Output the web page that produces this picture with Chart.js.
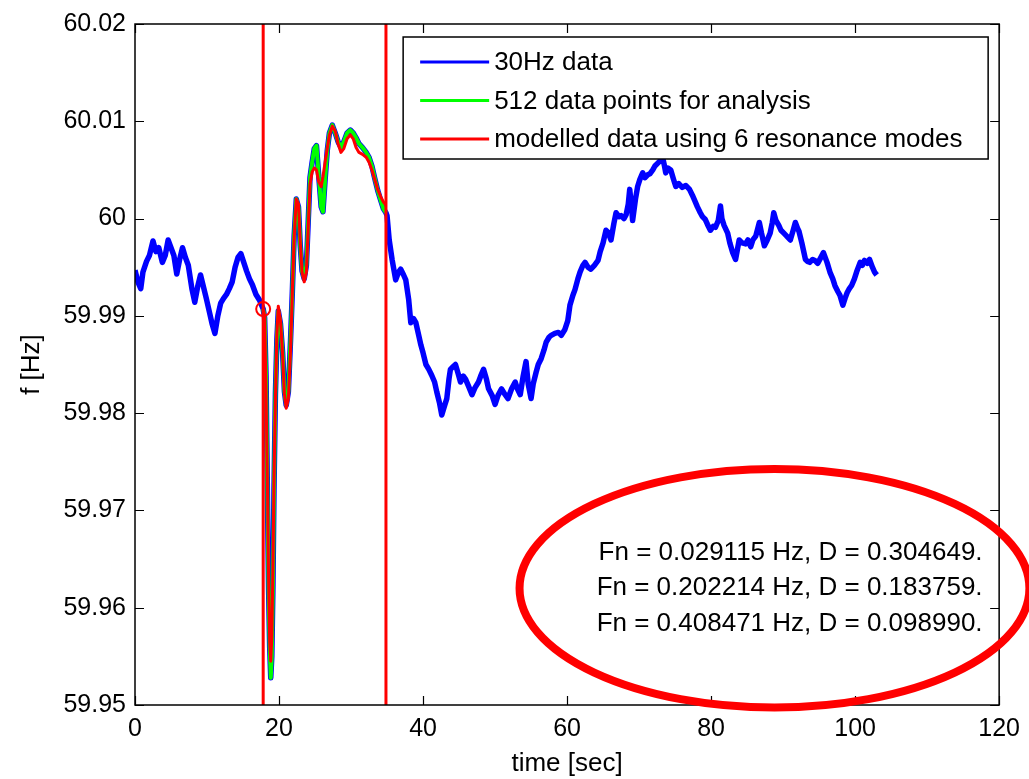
<!DOCTYPE html>
<html>
<head>
<meta charset="utf-8">
<title>Frequency record</title>
<script src="https://cdn.jsdelivr.net/npm/chart.js@4.4.1/dist/chart.umd.min.js"></script>
<style>
  html, body { margin: 0; padding: 0; background: #fff; }
  #wrap { width: 1029px; height: 779px; }
</style>
</head>
<body>
<div id="wrap"><canvas id="freqChart" width="1029" height="779"></canvas></div>
<script>
// 30 Hz record before the analysis window
const preTime = [0, 0.4, 0.8, 1.1, 1.6, 2.0, 2.5, 2.9, 3.3, 3.8, 4.2, 4.6, 5.0, 5.4, 5.8, 6.2, 6.6, 7.0, 7.4, 7.9,
  8.3, 8.7, 9.1, 9.5, 9.9, 10.3, 10.7, 11.1, 11.5, 11.9, 12.3, 12.7, 13.1, 13.5, 13.9, 14.3, 14.7, 15.1, 15.5,
  15.9, 16.3, 16.8, 17.3];
const preFreq = [59.9947, 59.9935, 59.9928, 59.9945, 59.9956, 59.9962, 59.9977, 59.9966, 59.9970, 59.9955,
  59.9962, 59.9978, 59.9970, 59.9962, 59.9943, 59.9958, 59.9970, 59.9960, 59.9952, 59.9928, 59.9914, 59.9930,
  59.9942, 59.9930, 59.9918, 59.9905, 59.9892, 59.9882, 59.9900, 59.9913, 59.9918, 59.9922, 59.9928, 59.9935,
  59.9950, 59.9960, 59.9964, 59.9955, 59.9946, 59.9938, 59.9932, 59.9922, 59.9916];

// analysis window: measured samples and the 6-mode model on the same time base
const winTime = [17.8, 18.0, 18.2, 18.4, 18.55, 18.7, 18.85, 19.0, 19.15, 19.3, 19.5, 19.7, 19.9, 20.2, 20.5,
  20.75, 21.0, 21.3, 21.6, 21.85, 22.1, 22.4, 22.7, 22.95, 23.2, 23.5, 23.8, 24.05, 24.3, 24.6, 24.9, 25.2, 25.5,
  25.85, 26.1, 26.4, 26.7, 27.0, 27.4, 27.8, 28.2, 28.6, 29.0, 29.45, 29.9, 30.3, 30.7, 31.1, 31.6, 32.1, 32.5,
  32.9, 33.3, 33.7, 34.15, 34.5, 34.85];
const winFreq = [59.9907, 59.9898, 59.9837, 59.9710, 59.9620, 59.9560, 59.9528, 59.9550, 59.9620, 59.9720,
  59.9820, 59.9875, 59.9905, 59.9892, 59.9862, 59.9822, 59.9808, 59.9822, 59.9875, 59.9925, 59.9982, 60.0020,
  60.0012, 59.9972, 59.9946, 59.9938, 59.9952, 59.9996, 60.0042, 60.0058, 60.0072, 60.0075, 60.0045, 60.0012,
  60.0007, 60.0040, 60.0070, 60.0088, 60.0096, 60.0088, 60.0079, 60.0073, 60.0079, 60.0088, 60.0091, 60.0088,
  60.0083, 60.0077, 60.0073, 60.0068, 60.0063, 60.0054, 60.0041, 60.0029, 60.0018, 60.0010, 60.0006];
const modelFreq = [59.9907, 59.9900, 59.9820, 59.9720, 59.9630, 59.9565, 59.9545, 59.9570, 59.9640, 59.9730,
  59.9815, 59.9880, 59.9910, 59.9895, 59.9860, 59.9820, 59.9805, 59.9815, 59.9865, 59.9925, 59.9980, 60.0020,
  60.0015, 59.9975, 59.9945, 59.9935, 59.9945, 59.9990, 60.0035, 60.0048, 60.0052, 60.0050, 60.0038, 60.0033,
  60.0043, 60.0058, 60.0072, 60.0086, 60.0095, 60.0090, 60.0077, 60.0068, 60.0072, 60.0082, 60.0086, 60.0082,
  60.0073, 60.0068, 60.0066, 60.0063, 60.0058, 60.0050, 60.0040, 60.0030, 60.0022, 60.0017, 60.0014];

// 30 Hz record after the analysis window
const postTime = [35.0, 35.3, 35.7, 36.2, 36.6, 36.9, 37.3, 37.6, 38.0, 38.3, 38.7, 39.0, 39.4, 39.7, 40.0, 40.4,
  40.8, 41.2, 41.6, 41.9, 42.3, 42.6, 43.0, 43.3, 43.6, 43.8, 44.2, 44.5, 44.9, 45.2, 45.6, 45.9, 46.3, 46.8,
  47.2, 47.7, 48.0, 48.4, 48.8, 49.1, 49.6, 50.0, 50.4, 50.9, 51.3, 51.8, 52.3, 52.8, 53.1, 53.5, 53.9, 54.3,
  54.6, 55.0, 55.3, 55.7, 56.0, 56.4, 56.8, 57.1, 57.5, 57.8, 58.3, 58.8, 59.2, 59.7, 60.1, 60.4, 60.8, 61.1,
  61.5, 61.8, 62.2, 62.5, 62.9, 63.3, 63.8, 64.3, 64.6, 65.0, 65.4, 65.7, 66.1, 66.5, 66.8, 67.2, 67.5, 67.9,
  68.2, 68.5, 68.7, 69.0, 69.1, 69.5, 69.8, 70.1, 70.5, 70.8, 71.2, 71.5, 71.9, 72.2, 72.6, 73.0, 73.3, 73.5,
  73.7, 74.0, 74.4, 74.8, 75.1, 75.5, 76.0, 76.5, 77.0, 77.4, 77.7, 78.1, 78.5, 78.8, 79.2, 79.5, 79.9, 80.3,
  80.6, 81.0, 81.3, 81.5, 81.8, 82.3, 82.6, 83.0, 83.4, 83.7, 83.9, 84.3, 84.8, 85.1, 85.5, 85.8, 86.2, 86.7,
  87.0, 87.4, 87.8, 88.2, 88.5, 88.7, 89.0, 89.4, 89.7, 90.1, 90.5, 91.0, 91.4, 91.7, 92.0, 92.2, 92.6, 93.1,
  93.4, 93.7, 94.1, 94.4, 94.8, 95.1, 95.6, 96.1, 96.5, 96.9, 97.2, 97.6, 97.9, 98.3, 98.6, 98.9, 99.2, 99.5,
  99.9, 100.2, 100.7, 101.0, 101.3, 101.7, 102.0, 102.4, 102.7, 103.0];
const postFreq = [60.0003, 59.9978, 59.9958, 59.9937, 59.9945, 59.9948, 59.9942, 59.9937, 59.9917, 59.9893,
  59.9897, 59.9893, 59.9880, 59.9870, 59.9862, 59.9850, 59.9845, 59.9839, 59.9832, 59.9822, 59.9810, 59.9798,
  59.9808, 59.9815, 59.9835, 59.9845, 59.9848, 59.9850, 59.9840, 59.9832, 59.9838, 59.9835, 59.9828, 59.9819,
  59.9826, 59.9832, 59.9838, 59.9845, 59.9835, 59.9825, 59.9818, 59.9809, 59.9818, 59.9825, 59.9820, 59.9815,
  59.9825, 59.9832, 59.9825, 59.9819, 59.9838, 59.9853, 59.9830, 59.9815, 59.9830, 59.9842, 59.9850, 59.9856,
  59.9865, 59.9873, 59.9878, 59.9880, 59.9882, 59.9883, 59.9880, 59.9886, 59.9895, 59.9911, 59.9921, 59.9927,
  59.9938, 59.9945, 59.9952, 59.9955, 59.9950, 59.9948, 59.9952, 59.9957, 59.9966, 59.9975, 59.9988, 59.9986,
  59.9978, 59.9995, 60.0006, 60.0002, 60.0003, 60.0000, 60.0004, 60.0015, 60.0030, 60.0008, 59.9998, 60.0020,
  60.0033, 60.0040, 60.0047, 60.0042, 60.0045, 60.0046, 60.0050, 60.0054, 60.0057, 60.0060, 60.0062, 60.0055,
  60.0047, 60.0052, 60.0050, 60.0040, 60.0033, 60.0036, 60.0032, 60.0034, 60.0030, 60.0024, 60.0019, 60.0012,
  60.0006, 60.0002, 59.9999, 59.9994, 59.9988, 59.9992, 59.9991, 59.9998, 60.0013, 60.0000, 59.9993, 59.9985,
  59.9975, 59.9965, 59.9958, 59.9970, 59.9978, 59.9975, 59.9974, 59.9978, 59.9971, 59.9978, 59.9982, 59.9996,
  59.9985, 59.9972, 59.9978, 59.9985, 59.9996, 60.0006, 59.9998, 59.9993, 59.9988, 59.9985, 59.9982, 59.9978,
  59.9988, 59.9996, 59.9990, 59.9987, 59.9975, 59.9958, 59.9956, 59.9955, 59.9958, 59.9957, 59.9954, 59.9958,
  59.9965, 59.9955, 59.9945, 59.9938, 59.9931, 59.9925, 59.9921, 59.9911, 59.9918, 59.9924, 59.9928, 59.9931,
  59.9938, 59.9945, 59.9955, 59.9952, 59.9957, 59.9954, 59.9958, 59.9950, 59.9945, 59.9942];

// window edges and the start-of-window marker
const windowEdges = [17.8, 34.85];
const startMark = [17.8, 59.9907];

const xTicks = [0, 20, 40, 60, 80, 100, 120];
const xTickLabels = ['0', '20', '40', '60', '80', '100', '120'];
const yTicks = [59.95, 59.96, 59.97, 59.98, 59.99, 60, 60.01, 60.02];
const yTickLabels = ['59.95', '59.96', '59.97', '59.98', '59.99', '60', '60.01', '60.02'];

// identified modes: natural frequency and damping
const modeFn = ['0.029115', '0.202214', '0.408471'];
const modeD = ['0.304649', '0.183759', '0.098990'];

const FONT = '"Liberation Sans", Arial, sans-serif';
const INK = '#000000';

const pts = (xs, ys) => xs.map((x, i) => ({ x: x, y: ys[i] }));

const edgeSets = windowEdges.map(t => ({
    label: '',
    data: [{ x: t, y: yTicks[0] }, { x: t, y: yTicks[yTicks.length - 1] }],
    borderColor: '#ff0000',
    borderWidth: 3,
    pointRadius: 0,
    order: 0,
}));

// box, inward ticks on all four sides
const frame = {
    id: 'frame',
    afterDatasetsDraw(chart) {
        const { ctx, chartArea: a, scales } = chart;
        ctx.save();
        ctx.strokeStyle = INK;
        ctx.lineWidth = 1.5;
        ctx.strokeRect(a.left, a.top, a.right - a.left, a.bottom - a.top);
        ctx.lineWidth = 1.2;
        ctx.beginPath();
        xTicks.forEach(v => {
            const px = Math.round(scales.x.getPixelForValue(v)) + 0.5;
            ctx.moveTo(px, a.bottom); ctx.lineTo(px, a.bottom - 9);
            ctx.moveTo(px, a.top); ctx.lineTo(px, a.top + 9);
        });
        yTicks.forEach(v => {
            const py = Math.round(scales.y.getPixelForValue(v)) + 0.5;
            ctx.moveTo(a.left, py); ctx.lineTo(a.left + 9, py);
            ctx.moveTo(a.right, py); ctx.lineTo(a.right - 9, py);
        });
        ctx.stroke();
        ctx.restore();
    }
};

// legend box in the upper right of the axes
const legendBox = {
    id: 'legendBox',
    afterDraw(chart) {
        const { ctx, chartArea: a } = chart;
        const items = chart.data.datasets.filter(d => d.label);
        const right = a.right - 11, top = a.top + 13;
        const w = 585, h = 122;
        const left = right - w;
        ctx.save();
        ctx.fillStyle = '#ffffff';
        ctx.fillRect(left, top, w, h);
        ctx.strokeStyle = INK;
        ctx.lineWidth = 1.5;
        ctx.strokeRect(left, top, w, h);
        ctx.font = '26px ' + FONT;
        ctx.textBaseline = 'middle';
        ctx.textAlign = 'left';
        items.forEach((d, i) => {
            const y = top + 25 + i * 38.5;
            ctx.strokeStyle = d.borderColor;
            ctx.lineWidth = 3;
            ctx.beginPath();
            ctx.moveTo(left + 17, y);
            ctx.lineTo(left + 86, y);
            ctx.stroke();
            ctx.fillStyle = INK;
            ctx.fillText(d.label, left + 91, y + 1);
        });
        ctx.restore();
    }
};

// highlighted mode results
const modeNote = {
    id: 'modeNote',
    afterDraw(chart) {
        const { ctx, scales: { x, y } } = chart;
        const cx = x.getPixelForValue(88.8), cy = y.getPixelForValue(59.962);
        const rx = x.getPixelForValue(88.8 + 35.4) - cx;
        const ry = cy - y.getPixelForValue(59.962 + 0.01226);
        ctx.save();
        ctx.fillStyle = INK;
        ctx.font = '26px ' + FONT;
        ctx.textAlign = 'right';
        ctx.textBaseline = 'middle';
        const tx = x.getPixelForValue(117.7);
        modeFn.forEach((fn, i) => {
            ctx.fillText('Fn = ' + fn + ' Hz, D = ' + modeD[i] + '.', tx, cy + (i - 1) * 35.5);
        });
        ctx.strokeStyle = '#ff0000';
        ctx.lineWidth = 8;
        ctx.beginPath();
        ctx.ellipse(cx, cy, rx, ry, 0, 0, Math.PI * 2);
        ctx.stroke();
        ctx.restore();
    }
};

new Chart(document.getElementById('freqChart'), {
    type: 'line',
    data: {
        datasets: [
            {
                label: '30Hz data',
                data: pts(preTime.concat(winTime, postTime), preFreq.concat(winFreq, postFreq)),
                borderColor: '#0000ff',
                borderWidth: 5.5,
                pointRadius: 0,
                order: 3,
            },
            {
                label: '512 data points for analysis',
                data: pts(winTime, winFreq),
                borderColor: '#00ff00',
                borderWidth: 4,
                pointRadius: 0,
                order: 2,
            },
            {
                label: 'modelled data using 6 resonance modes',
                data: pts(winTime, modelFreq),
                borderColor: '#ff0000',
                borderWidth: 3,
                pointRadius: 0,
                order: 1,
            },
            ...edgeSets,
            {
                label: '',
                type: 'scatter',
                data: [{ x: startMark[0], y: startMark[1] }],
                borderColor: '#ff0000',
                backgroundColor: 'rgba(0,0,0,0)',
                borderWidth: 2,
                pointRadius: 7,
                order: 0,
            },
        ]
    },
    options: {
        responsive: false,
        animation: false,
        devicePixelRatio: 1,
        layout: { padding: { top: 20, right: 26, left: 0, bottom: 0 } },
        elements: { line: { tension: 0, borderJoinStyle: 'round' } },
        plugins: {
            legend: { display: false },
            tooltip: { enabled: false },
        },
        scales: {
            x: {
                type: 'linear',
                min: 0,
                max: 120,
                afterFit: s => { s.height = 74; },
                afterBuildTicks: s => { s.ticks = xTicks.map(v => ({ value: v })); },
                grid: { display: false, drawTicks: false },
                border: { display: false },
                ticks: {
                    autoSkip: false,
                    maxRotation: 0,
                    padding: 9,
                    color: INK,
                    font: { family: FONT, size: 25 },
                    callback: (v, i) => xTickLabels[i],
                },
                title: {
                    display: true,
                    text: 'time [sec]',
                    color: INK,
                    font: { family: FONT, size: 26 },
                    padding: { top: 0, bottom: 0 },
                },
            },
            y: {
                type: 'linear',
                min: 59.95,
                max: 60.02,
                afterFit: s => { s.width = 135; },
                afterBuildTicks: s => { s.ticks = yTicks.map(v => ({ value: v })); },
                grid: { display: false, drawTicks: false },
                border: { display: false },
                ticks: {
                    autoSkip: false,
                    padding: 9,
                    color: INK,
                    font: { family: FONT, size: 25 },
                    callback: (v, i) => yTickLabels[i],
                },
                title: {
                    display: true,
                    text: 'f [Hz]',
                    color: INK,
                    font: { family: FONT, size: 26 },
                    padding: { top: 16, bottom: 0 },
                },
            },
        },
    },
    plugins: [frame, legendBox, modeNote],
});
</script>
</body>
</html>
